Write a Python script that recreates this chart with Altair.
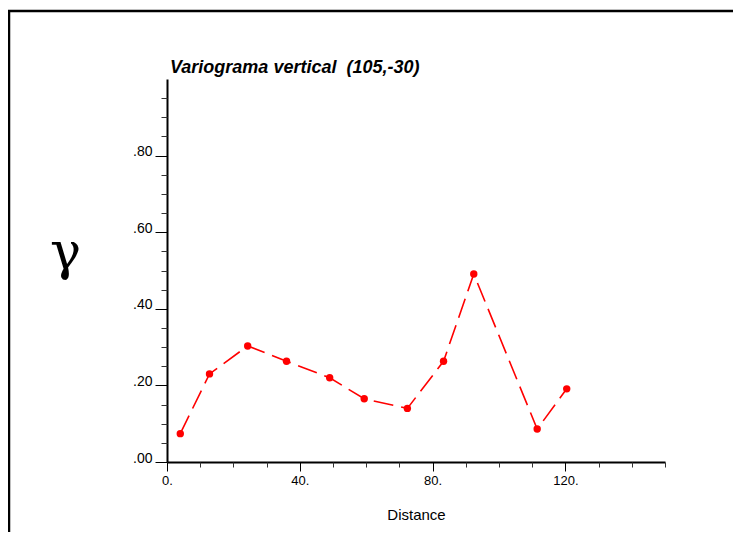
import altair as alt
import pandas as pd

# Data
distance = [4.0, 12.8, 24.3, 36.0, 49.0, 59.4, 72.4, 83.3, 92.4, 111.5, 120.4]
gamma = [0.074, 0.230, 0.303, 0.263, 0.220, 0.165, 0.140, 0.263, 0.491, 0.086, 0.191]

y_major = [0.0, 0.2, 0.4, 0.6, 0.8]
y_minor = [0.05, 0.10, 0.15, 0.25, 0.30, 0.35, 0.45, 0.50, 0.55, 0.65, 0.70, 0.75, 0.85, 0.90, 0.95]
x_major = [0, 40, 80, 120]
x_minor = [10, 20, 30, 50, 60, 70, 90, 100, 110, 130, 140, 150]

title_text = ["Variograma vertical\u00a0 (105,-30)"]

df = pd.DataFrame({"d": distance, "g": gamma})

W, H = 498, 383
PL, PT, PR, PB = 159, 71, 68, 70

xs = alt.Scale(domain=[0, 150], nice=False, zero=False)
ys = alt.Scale(domain=[0, 1.0], nice=False, zero=False)

FONT = "Liberation Sans"

x_major_axis = alt.Axis(
    values=x_major, labelExpr="datum.value + '.'", tickSize=9, tickColor="black",
    tickWidth=1, domain=True, domainColor="black", domainWidth=2, grid=False,
    labelFont=FONT, labelFontSize=13, labelColor="black", labelPadding=3,
    labelFlush=False, labelOverlap=False,
    title="Distance", titleFont=FONT, titleFontSize=15, titleFontWeight="normal",
    titleColor="black", titleX=W / 2, titleY=57, titleBaseline="alphabetic",
    titleAlign="center", orient="bottom",
)
x_minor_axis = alt.Axis(
    values=x_minor, tickSize=5, tickColor="#333333", tickWidth=1, domain=False,
    labels=False, grid=False, title=None, orient="bottom",
)
y_major_axis = alt.Axis(
    values=y_major, labelExpr="replace(format(datum.value, '.2f'), '0.', '.')",
    tickSize=12, tickColor="black", tickWidth=1, domain=True, domainColor="black",
    domainWidth=2, grid=False, labelFont=FONT, labelFontSize=14, labelColor="black",
    labelPadding=3, labelBaseline="alphabetic", labelFlush=False, labelOverlap=False,
    title="γ", titleFont="DejaVu Serif", titleFontSize=52, titleFontWeight="normal",
    titleColor="black", titleAngle=0, titleX=-102, titleY=189,
    titleAlign="center", titleBaseline="alphabetic", orient="left",
)
y_minor_axis = alt.Axis(
    values=y_minor, tickSize=6, tickColor="#333333", tickWidth=1, domain=False,
    labels=False, grid=False, title=None, orient="left",
)

base = alt.Chart(df)

line = base.mark_line(color="#ff0000", strokeWidth=1.6, strokeDash=[20, 8]).encode(
    x=alt.X("d:Q", scale=xs, axis=x_major_axis),
    y=alt.Y("g:Q", scale=ys, axis=y_major_axis),
)
pts = base.mark_circle(color="#ff0000", size=55, opacity=1).encode(
    x=alt.X("d:Q", scale=xs, axis=x_minor_axis),
    y=alt.Y("g:Q", scale=ys, axis=y_minor_axis),
)

one = pd.DataFrame({"k": [0]})
frame_left = alt.Chart(one).mark_rule(color="black", strokeWidth=2.5).encode(
    x=alt.value(-158), y=alt.value(-68), y2=alt.value(H + PB)
)
frame_top = alt.Chart(one).mark_rule(color="black", strokeWidth=2.5).encode(
    y=alt.value(-68), x=alt.value(-PL), x2=alt.value(W + PR)
)
title = alt.Chart(pd.DataFrame({"t": title_text})).mark_text(
    font=FONT, fontSize=18, fontStyle="italic", fontWeight="bold", color="black",
    align="left", baseline="alphabetic",
).encode(x=alt.value(3), y=alt.value(-6), text="t:N")

chart = (
    alt.layer(line, pts, frame_left, frame_top, title)
    .resolve_axis(x="independent", y="independent")
    .properties(
        width=W, height=H,
        autosize=alt.AutoSizeParams(type="none"),
        padding={"left": PL, "top": PT, "right": PR, "bottom": PB},
        background="white",
    )
    .configure_view(stroke=None)
)

chart.save("out.html", embed_options={"renderer": "svg", "actions": False})
